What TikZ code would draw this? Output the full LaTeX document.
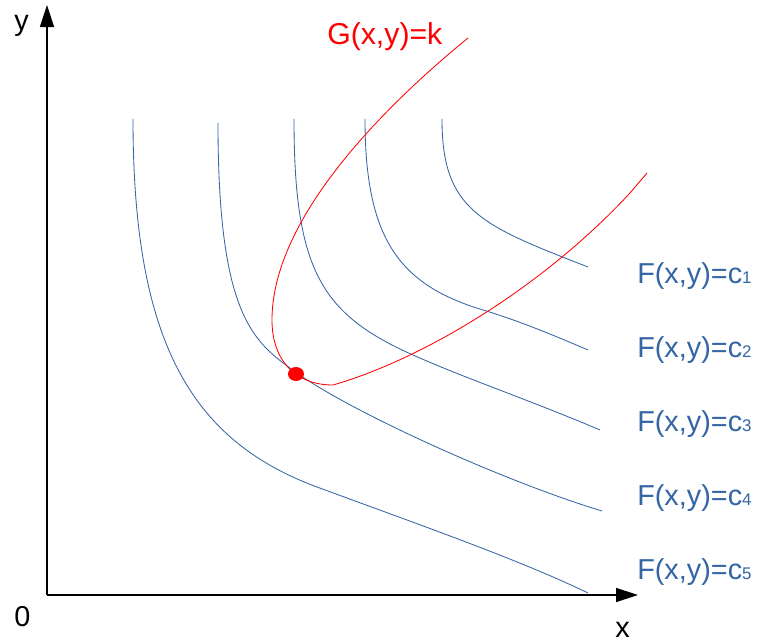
\documentclass[tikz,border=0pt]{standalone}
\usepackage{fontspec}
\setmainfont{Liberation Sans}
\usetikzlibrary{arrows.meta}
\definecolor{CurveBlue}{RGB}{52,101,164}
\definecolor{LevelRed}{RGB}{255,0,0}
\newcommand{\lvl}[1]{F(x,y)=c{\fontsize{12}{12}\selectfont #1}}

\begin{document}
\begin{tikzpicture}[x=0.025cm, y=-0.025cm, every node/.style={inner sep=0pt, anchor=base west, font=\fontsize{20.5}{24}\selectfont},
  level/.style={CurveBlue, line width=0.6pt},
  axis/.style={line width=1pt, -{Triangle[length=5.5mm, width=3.5mm]}}]
\useasboundingbox (0,0) rectangle (764,642);
\coordinate (O) at (47,595);
\coordinate (ytip) at (47,5);
\coordinate (xtip) at (638,595);
\draw[axis] (O) -- (ytip);
\draw[axis] (O) -- (xtip);
\node (ylab) at (14,31) {y};
\node (xlab) at (615,637) {x};
\node (zero) at (14,627) {0};
\draw[level] (133,119) .. controls (133,340) and (190,440) .. (317,487) .. controls (420,525) and (520,560) .. (588,593);
\draw[level] (218,123) .. controls (218,320) and (255,343) .. (297,373) .. controls (350,411) and (500,480) .. (602,511);
\draw[level] (294,119) .. controls (294,265) and (320,310) .. (400,349) .. controls (450,373) and (530,400) .. (600,430);
\draw[level] (365,119) .. controls (365,240) and (400,285) .. (483,310) .. controls (520,321) and (560,338) .. (588,350);
\draw[level] (442,119) .. controls (442,210) and (480,225) .. (588,267);
\draw[LevelRed, line width=0.6pt] (468,38) .. controls (380,110) and (272,220) .. (272,320) .. controls (272,360) and (295,385) .. (333,385) .. controls (420,360) and (540,290) .. (630,193) -- (647,173);
\coordinate (P) at (296,374);
\fill[LevelRed] (P) ellipse [x radius=2mm, y radius=1.75mm];
\node[text=LevelRed, font=\fontsize{21.5}{24}\selectfont] (G) at (327,45) {G(x,y)=k};
\node[text=CurveBlue] (c1) at (637,284) {\lvl{1}};
\node[text=CurveBlue] (c2) at (637,358) {\lvl{2}};
\node[text=CurveBlue] (c3) at (637,432) {\lvl{3}};
\node[text=CurveBlue] (c4) at (637,506) {\lvl{4}};
\node[text=CurveBlue] (c5) at (637,580) {\lvl{5}};
\end{tikzpicture}
\end{document}
